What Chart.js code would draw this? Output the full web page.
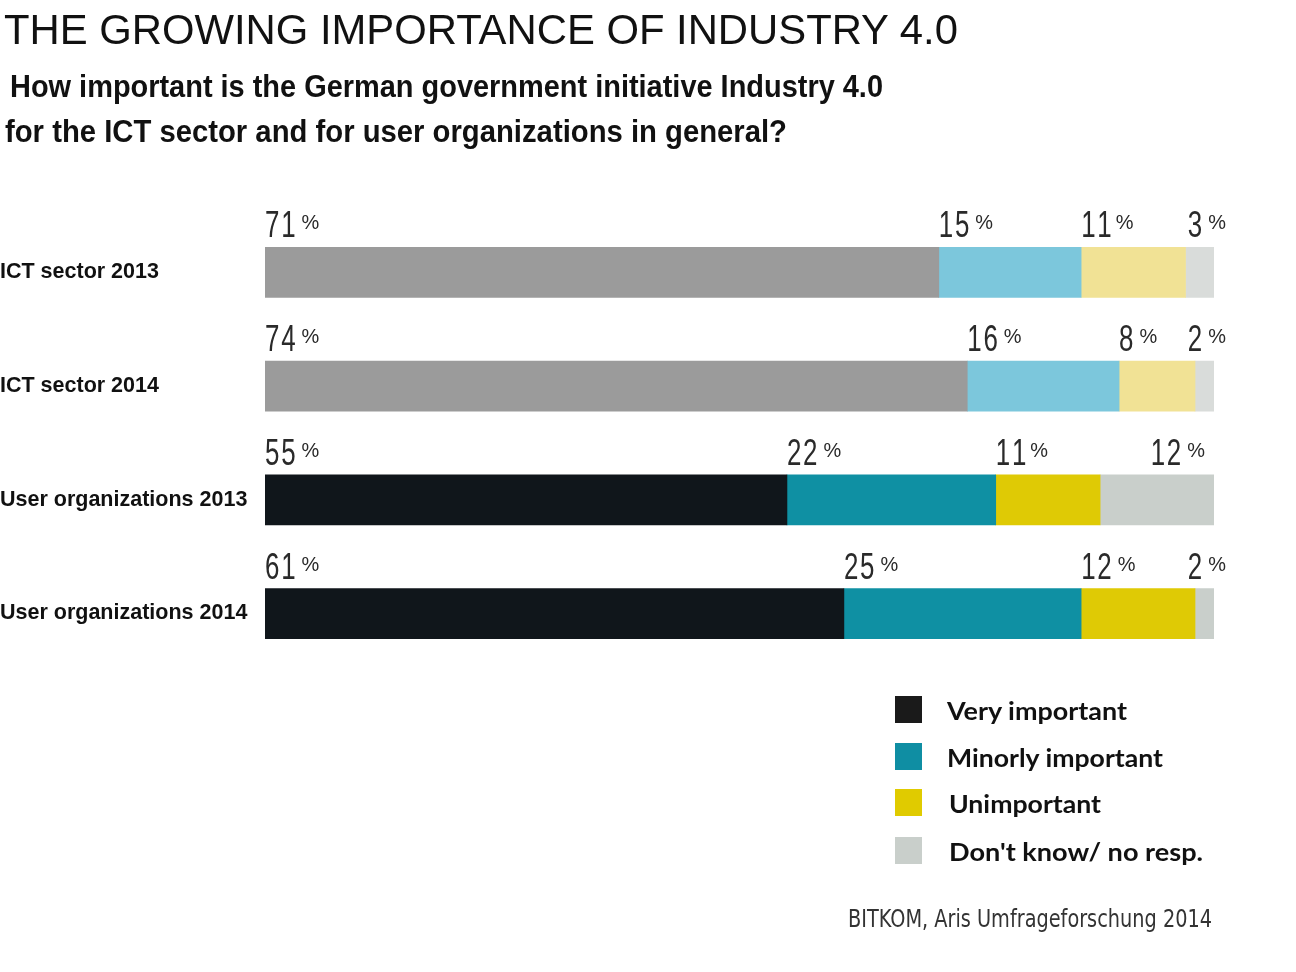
<!DOCTYPE html>
<html>
<head>
<meta charset="utf-8">
<script src="https://cdn.jsdelivr.net/npm/chart.js@4.4.1/dist/chart.umd.min.js"></script>
<style>
  html, body { margin: 0; padding: 0; background: #ffffff; }
  body { width: 1296px; height: 972px; position: relative; overflow: hidden; }
  .t { position: absolute; white-space: nowrap; display: inline-block; transform-origin: 0 0; color: #111; }
  #title { font: 400 43px/43px "Liberation Sans", Arial, sans-serif; left: 4px; top: 7.6px; }
  .sub { font: 700 31px/31px "Liberation Sans", Arial, sans-serif; }
  .leg { font: 700 24px/24px Lato, "Open Sans", sans-serif; color: #111; }
  .sq { position: absolute; width: 27px; height: 27px; left: 895px; }
  #source { font: 400 24px/24px "Liberation Sans Narrow", "DejaVu Sans Condensed", sans-serif; color: #333; left: 848px; top: 906.7px; }
  #wrap { position: absolute; left: 0; top: 0; width: 1296px; height: 972px; }
</style>
</head>
<body>
<div id="wrap"><canvas id="c"></canvas></div>

<div id="title" class="t" data-w="954">THE GROWING IMPORTANCE OF INDUSTRY 4.0</div>
<div class="t sub" style="left:10px; top:70.8px;" data-w="873">How important is the German government initiative Industry 4.0</div>
<div class="t sub" style="left:5px; top:115.8px;" data-w="782">for the ICT sector and for user organizations in general?</div>

<div id="legend"></div>
<div id="source" class="t" data-w="364">BITKOM, Aris Umfrageforschung 2014</div>

<script>
// ---- data ----
const categories = ['ICT sector 2013', 'ICT sector 2014', 'User organizations 2013', 'User organizations 2014'];
const seriesNames = ['Very important', 'Minorly important', 'Unimportant', "Don't know/ no resp."];
const veryImportant = [71, 74, 55, 61];
const minorlyImportant = [15, 16, 22, 25];
const unimportant = [11, 8, 11, 12];
const dontKnow = [3, 2, 12, 2];

// ---- styles ----
const lightColors = ['#9b9b9b', '#7cc7dc', '#f1e295', '#d9dcda'];
const darkColors = ['#10161b', '#0f90a3', '#dfca05', '#c9cfcb'];
const legendColors = ['#1a1a1a', '#0f8ea3', '#e0cb00', '#c9cfcb'];
const isLightRow = [true, true, false, false];

const seriesValues = [veryImportant, minorlyImportant, unimportant, dontKnow];

const datasets = seriesValues.map((vals, s) => ({
  label: seriesNames[s],
  data: vals,
  backgroundColor: categories.map((_, i) => isLightRow[i] ? lightColors[s] : darkColors[s]),
  borderWidth: 0,
  barThickness: 50
}));

const NUM_FONT = '37px "Liberation Sans", Arial, sans-serif';
const PCT_FONT = '21px "Liberation Sans", Arial, sans-serif';
const NUM_SX = 0.7;
const PCT_SX = 0.95;
const NUM_SPACING = 2.5;

const labelPlugin = {
  id: 'segLabels',
  afterDatasetsDraw(chart) {
    const ctx = chart.ctx;
    const area = chart.chartArea;
    ctx.save();
    ctx.fillStyle = '#2a2a2a';
    ctx.textBaseline = 'alphabetic';
    ctx.textAlign = 'left';
    const last = chart.data.datasets.length - 1;
    chart.data.datasets.forEach((ds, di) => {
      const meta = chart.getDatasetMeta(di);
      meta.data.forEach((el, i) => {
        const v = ds.data[i];
        const left = Math.min(el.x, el.base);
        const right = Math.max(el.x, el.base);
        const top = el.y - el.height / 2;
        const num = String(v);
        ctx.font = NUM_FONT;
        const wN = (ctx.measureText(num).width + NUM_SPACING * (num.length - 1)) * NUM_SX;
        ctx.font = PCT_FONT;
        const wP = ctx.measureText('%').width * PCT_SX;
        const gap = 6;
        const total = wN + gap + wP;
        let x = left;
        if (di === last) {
          if (right - left < total) x = area.right + 12 - total;
          else x = area.right - 9 - total;
        }
        const base = top - 10;
        ctx.save();
        ctx.font = NUM_FONT;
        ctx.translate(x, base);
        ctx.scale(NUM_SX, 1);
        let cx = 0;
        for (const ch of num) {
          ctx.fillText(ch, cx, 0);
          cx += ctx.measureText(ch).width + NUM_SPACING;
        }
        ctx.restore();
        ctx.save();
        ctx.font = PCT_FONT;
        ctx.translate(x + wN + gap, base - 8);
        ctx.scale(PCT_SX, 1);
        ctx.fillText('%', 0, 0);
        ctx.restore();
      });
    });
    ctx.restore();
  }
};

function build() {
  new Chart(document.getElementById('c'), {
    type: 'bar',
    data: { labels: categories, datasets },
    options: {
      indexAxis: 'y',
      responsive: true,
      maintainAspectRatio: false,
      animation: false,
      layout: { padding: { left: 0, right: 82, top: 215.6, bottom: 301.6 } },
      plugins: { legend: { display: false }, tooltip: { enabled: false }, title: { display: false } },
      scales: {
        x: { stacked: true, min: 0, max: 100, display: false },
        y: {
          stacked: true,
          grid: { display: false },
          border: { display: false },
          ticks: {
            crossAlign: 'far',
            padding: 0,
            color: '#111',
            font: { family: '"Liberation Sans", Arial, sans-serif', size: 21.5, weight: 'bold' }
          },
          afterFit(scale) { scale.width = 265; }
        }
      }
    },
    plugins: [labelPlugin]
  });
}

// legend (HTML)
const legend = document.getElementById('legend');
const sqTops = [696, 743, 789, 837];
const legX = [947, 947, 949, 949];
const legW = [180, 216, 152, 254];
seriesNames.forEach((name, s) => {
  const sq = document.createElement('div');
  sq.className = 'sq';
  sq.style.top = sqTops[s] + 'px';
  sq.style.background = legendColors[s];
  legend.appendChild(sq);
  const tx = document.createElement('div');
  tx.className = 't leg';
  tx.textContent = name;
  const baseline = sqTops[s] + 24;
  tx.style.left = legX[s] + 'px';
  tx.style.top = (baseline - 21.3) + 'px';
  tx.setAttribute('data-w', legW[s]);
  legend.appendChild(tx);
});

function fit() {
  document.querySelectorAll('[data-w]').forEach(el => {
    el.style.transform = 'none';
    const w = el.getBoundingClientRect().width;
    const target = parseFloat(el.getAttribute('data-w'));
    if (w > 0) el.style.transform = 'scaleX(' + (target / w) + ')';
  });
}

const ready = (document.fonts && document.fonts.ready) ? document.fonts.ready : Promise.resolve();
ready.then(() => { fit(); build(); });
</script>
</body>
</html>
